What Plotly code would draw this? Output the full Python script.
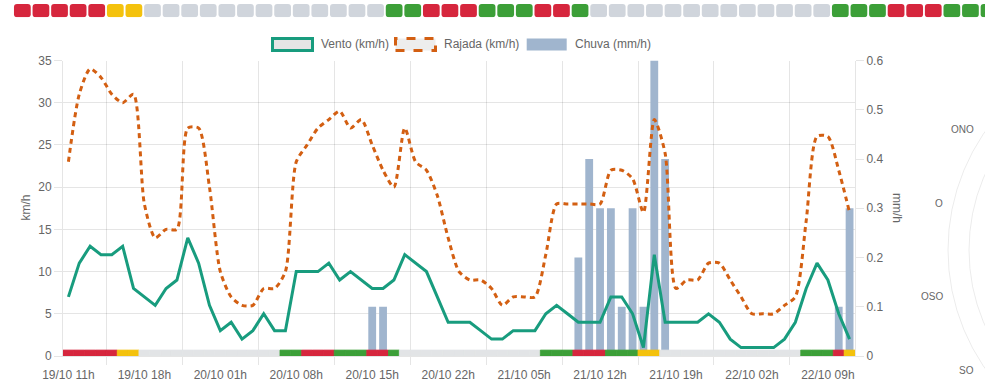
import plotly.graph_objects as go
import pandas as pd
import numpy as np

# ---------------- data ----------------
START = "2024-10-19 11:00"
N_HOURS = 73
HOURS = pd.date_range(START, periods=N_HOURS, freq="h")

VENTO = [7, 11, 13, 12, 12, 13, 8, 7, 6, 8,
         9, 14, 11, 6, 3, 4, 2, 3, 5, 3,
         3, 10, 10, 10, 11, 9, 10, 9, 8, 8,
         9, 12, 11, 10, 7, 4, 4, 4, 3, 2,
         2, 3, 3, 3, 5, 6, 5, 4, 4, 4,
         7, 7, 5, 1, 12, 4, 4, 4, 4, 5,
         4, 2, 1, 1, 1, 1, 2, 4, 8, 11,
         9, 5, 2]

RAJADA = [23, 31, 34, 33, 31, 30, 31, 18, 14, 15,
          15, 27, 27, 20, 10, 7, 6, 6, 8, 8,
          10, 23, 25, 27, 28, 29, 27, 28, 25, 22,
          20, 27, 23, 22, 19, 14, 10, 9, 9, 8,
          6, 7, 7, 7, 12, 18, 18, 18, 18, 18,
          22, 22, 21, 17, 28, 24, 8, 9, 9, 11,
          11, 9, 7, 5, 5, 5, 6, 7, 16, 26,
          26, 22, 17]

CHUVA = [0, 0, 0, 0, 0, 0, 0, 0, 0, 0,
         0, 0, 0, 0, 0, 0, 0, 0, 0, 0,
         0, 0, 0, 0, 0, 0, 0, 0, 0.1, 0.1,
         0, 0, 0, 0, 0, 0, 0, 0, 0, 0,
         0, 0, 0, 0, 0, 0, 0, 0.2, 0.4, 0.3,
         0.3, 0.1, 0.3, 0.1, 0.6, 0.4, 0, 0, 0, 0,
         0, 0, 0, 0, 0, 0, 0, 0, 0, 0,
         0, 0.1, 0.3]

# hourly condition category (r=red, y=yellow, g=green, n=none)
CATEGORIA = ("rrrrryy" "nnnnnnnnnnnnn" "gg" "rrr" "ggg" "rr" "g"
             "nnnnnnnnnnnnn" "ggg" "rrr" "ggg" "yy" "nnnnnnnnnnnnn"
             "ggg" "r" "y")
assert len(CATEGORIA) == N_HOURS == len(VENTO) == len(RAJADA) == len(CHUVA)

ROSE_LABELS = ["ONO", "O", "OSO", "SO"]
ROSE_ANGLES = [33.75, 12.4, -12.4, -33.75]

SERIES_NAMES = ["Vento (km/h)", "Rajada (km/h)", "Chuva (mm/h)"]

# ---------------- style ----------------
W, H = 985, 384
FONT = "Liberation Sans, Arial, Helvetica, sans-serif"
TXT = "#666666"
GRID = "rgba(0,0,0,0.1)"
C_VENTO = "#189c7e"
C_RAJADA = "#d35f12"
C_CHUVA = "#a0b5ce"
BAND_COLORS = {"r": "#d6263d", "y": "#f4c20d", "g": "#3c9f38", "n": "#e2e4e6"}
STRIP_COLORS = {"r": "#d6263d", "y": "#f4c20d", "g": "#3c9f38", "n": "#d0d5dc"}
BAND_H = 0.7  # km/h units

PLOT_L, PLOT_R, PLOT_T, PLOT_B = 63, 855, 60.5, 356
STRIP_T, STRIP_B = 4, 17.3
STRIP_PITCH, STRIP_C0 = 18.59, 22.35


def px(x):
    return x / W


def py(y):
    return 1 - y / H


hour_ms = 3600 * 1000

fig = go.Figure()

# rain bars (base axis, right side)
fig.add_trace(go.Bar(x=HOURS, y=CHUVA, name=SERIES_NAMES[2], marker_color=C_CHUVA,
                     marker_line_width=0, width=0.72 * hour_ms,
                     xaxis="x", yaxis="y", showlegend=False))

# category band along the bottom
band_cols = [BAND_COLORS[c] for c in CATEGORIA]
fig.add_trace(go.Bar(x=HOURS, y=[BAND_H] * N_HOURS, base=0,
                     marker=dict(color=band_cols, line=dict(color=band_cols, width=0.8)),
                     width=hour_ms,
                     xaxis="x", yaxis="y2", showlegend=False, hoverinfo="skip"))

fig.add_trace(go.Scatter(x=HOURS, y=RAJADA, name=SERIES_NAMES[1], mode="lines",
                         line=dict(color=C_RAJADA, width=3, dash="5px,4px",
                                   shape="spline", smoothing=0.7),
                         xaxis="x", yaxis="y2", showlegend=False))
fig.add_trace(go.Scatter(x=HOURS, y=VENTO, name=SERIES_NAMES[0], mode="lines",
                         line=dict(color=C_VENTO, width=3),
                         xaxis="x", yaxis="y2", showlegend=False))

# top strip of hourly squares
fig.add_trace(go.Bar(x=list(range(N_HOURS)), y=[1] * N_HOURS, base=0,
                     marker=dict(color=[STRIP_COLORS[c] for c in CATEGORIA],
                                 line_width=0, cornerradius=3),
                     width=0.9, xaxis="x2", yaxis="y3", showlegend=False,
                     hoverinfo="skip"))

tickfont = dict(family=FONT, size=12, color=TXT)

layout = dict(
    width=W, height=H,
    margin=dict(l=0, r=0, t=0, b=0),
    paper_bgcolor="white", plot_bgcolor="white",
    font=dict(family=FONT, size=12, color=TXT),
    barmode="overlay",
    showlegend=False,
    xaxis=dict(
        domain=[px(PLOT_L), px(PLOT_R)], anchor="y", type="date",
        range=[HOURS[0] - pd.Timedelta(minutes=30), HOURS[-1] + pd.Timedelta(minutes=30)],
        tickmode="linear", tick0=HOURS[0], dtick=7 * hour_ms,
        tickformat="%d/%m %Hh", ticks="outside", ticklen=8,
        tickcolor="rgba(0,0,0,0)", showgrid=False, zeroline=False,
        showline=True, linecolor=GRID, tickfont=tickfont, automargin=False,
        minor=dict(tickmode="linear", tick0=HOURS[0] + pd.Timedelta(minutes=210),
                   dtick=7 * hour_ms, ticks="outside", ticklen=8,
                   tickcolor=GRID, showgrid=True, gridcolor=GRID),
    ),
    yaxis=dict(
        domain=[py(PLOT_B), py(PLOT_T)], anchor="x", side="right",
        range=[0, 0.6], dtick=0.1, showgrid=False, zeroline=False,
        ticks="outside", ticklen=8, tickcolor=GRID, showline=True,
        linecolor=GRID, tickfont=tickfont, automargin=False,
    ),
    yaxis2=dict(
        overlaying="y", side="left", anchor="x",
        range=[0, 35], dtick=5, showgrid=True, gridcolor=GRID, zeroline=False,
        ticks="outside", ticklen=8, tickcolor=GRID, showline=True,
        linecolor=GRID, tickfont=tickfont, automargin=False,
    ),
    xaxis2=dict(
        domain=[0, 1], anchor="y3",
        range=[-STRIP_C0 / STRIP_PITCH, (W - STRIP_C0) / STRIP_PITCH],
        visible=False,
    ),
    yaxis3=dict(
        domain=[py(STRIP_B), py(STRIP_T)], anchor="x2", range=[0, 1], visible=False,
    ),
)

shapes = []
annotations = []

# axis titles
annotations.append(dict(text="km/h", x=px(25.5), y=py(208), xref="paper", yref="paper",
                        textangle=-90, showarrow=False, font=dict(size=12, color=TXT),
                        xanchor="center", yanchor="middle"))
annotations.append(dict(text="mm/h", x=px(897), y=py(208), xref="paper", yref="paper",
                        textangle=90, showarrow=False, font=dict(size=12, color=TXT),
                        xanchor="center", yanchor="middle"))

# legend (Chart.js style boxes)
LEG_Y = 44.5
leg_items = [
    (SERIES_NAMES[0], 272.5, dict(color=C_VENTO, width=3), "rgba(0,0,0,0.1)"),
    (SERIES_NAMES[1], 395.5, dict(color=C_RAJADA, width=3, dash="dash"), "rgba(0,0,0,0.07)"),
    (SERIES_NAMES[2], 526.7, dict(width=0), C_CHUVA),
]
for name, sx, line, fill in leg_items:
    shapes.append(dict(type="rect", xref="paper", yref="paper",
                       x0=px(sx), x1=px(sx + 40), y0=py(LEG_Y + 6), y1=py(LEG_Y - 6),
                       line=line, fillcolor=fill, layer="above"))
    annotations.append(dict(text=name, x=px(sx + 46), y=py(LEG_Y), xref="paper", yref="paper",
                            xanchor="left", yanchor="middle", showarrow=False,
                            font=dict(size=12, color=TXT)))

# partially visible wind rose on the right
ROSE_CX, ROSE_CY = 1156, 250
for r in (208, 187):
    shapes.append(dict(type="circle", xref="paper", yref="paper",
                       x0=px(ROSE_CX - r), x1=px(ROSE_CX + r),
                       y0=py(ROSE_CY + r), y1=py(ROSE_CY - r),
                       line=dict(color="rgba(0,0,0,0.08)", width=1)))
ROSE_R = 216
for lab, ang in zip(ROSE_LABELS, ROSE_ANGLES):
    a = np.deg2rad(ang)
    annotations.append(dict(text=lab, x=px(ROSE_CX - ROSE_R * np.cos(a)),
                            y=py(ROSE_CY - ROSE_R * np.sin(a)), xref="paper", yref="paper",
                            showarrow=False, xanchor="right", yanchor="middle",
                            font=dict(size=10, color=TXT)))

layout["shapes"] = shapes
layout["annotations"] = annotations
fig.update_layout(**layout)

fig.write_html("out.html")
